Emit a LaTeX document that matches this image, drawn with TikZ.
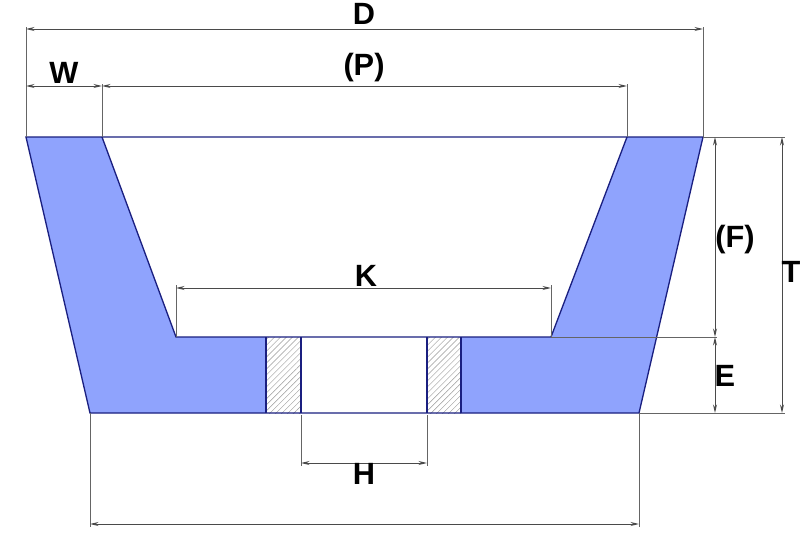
\documentclass[tikz,border=0pt]{standalone}
\usepackage{fontspec}
\setmainfont{Liberation Sans}
\usetikzlibrary{arrows.meta,patterns.meta}
\definecolor{wheelblue}{HTML}{8FA3FD}
\definecolor{wheeledge}{HTML}{1A1F80}
\definecolor{dimgray}{HTML}{4A4A4A}
\tikzset{
	wheel/.style={draw=wheeledge, line width=0.75pt},
	extline/.style={draw=dimgray!85, line width=0.45pt},
	dimline/.style={draw=dimgray, line width=0.55pt, {Stealth[length=1.7mm,width=0.8mm]}-{Stealth[length=1.7mm,width=0.8mm]}},
	dimtext/.style={font=\fontsize{17.5}{20}\selectfont\bfseries, inner sep=0pt, text=black},
	hatchfill/.style={pattern={Lines[angle=45,distance=2.4pt,line width=0.25pt]}, pattern color=black!40},
}
\begin{document}
\begin{tikzpicture}[x=0.2mm, y=-0.2mm]
		%%%%% START %%%%%
		\useasboundingbox (0, 0) rectangle (800, 546);
		\fill[white] (0, 0) rectangle (800, 546);
		
		% wheel section
		\fill[wheelblue] (26, 137) -- (102, 137) -- (176, 337) -- (266, 337) -- (266, 413) -- (90, 413) -- cycle;
		\fill[wheelblue] (703, 137) -- (627, 137) -- (551, 337) -- (461, 337) -- (461, 413) -- (639, 413) -- cycle;
		\fill[hatchfill] (266, 337) rectangle (301, 413);
		\fill[hatchfill] (427, 337) rectangle (461, 413);
		\draw[wheel] (26, 137) -- (703, 137) -- (639, 413) -- (90, 413) -- cycle;
		\draw[wheel] (102, 137) -- (176, 337) -- (551, 337) -- (627, 137);
		\draw[wheel] (266, 337) -- (266, 413);
		\draw[wheel] (301, 337) -- (301, 413);
		\draw[wheel] (427, 337) -- (427, 413);
		\draw[wheel] (461, 337) -- (461, 413);
		
		% points the dimensions hang on
		\coordinate (dLeft) at (26, 29);
		\coordinate (dRight) at (703, 29);
		\coordinate (wLeft) at (26, 86);
		\coordinate (wRight) at (102, 86);
		\coordinate (pRight) at (627, 86);
		\coordinate (kLeft) at (176, 288);
		\coordinate (kRight) at (551, 288);
		\coordinate (hLeft) at (301, 463);
		\coordinate (hRight) at (427, 463);
		\coordinate (bLeft) at (90, 524);
		\coordinate (bRight) at (639, 524);
		\coordinate (fTop) at (715, 137);
		\coordinate (fBottom) at (715, 337);
		\coordinate (eBottom) at (715, 413);
		\coordinate (tTop) at (782, 137);
		\coordinate (tBottom) at (782, 413);
		
		% extension lines
		\draw[extline] (26, 27) -- (26, 137);
		\draw[extline] (703, 27) -- (703, 137);
		\draw[extline] (102, 84) -- (102, 137);
		\draw[extline] (627, 84) -- (627, 137);
		\draw[extline] (176, 285) -- (176, 337);
		\draw[extline] (551, 285) -- (551, 337);
		\draw[extline] (301, 415) -- (301, 466);
		\draw[extline] (427, 415) -- (427, 466);
		\draw[extline] (90, 413) -- (90, 527);
		\draw[extline] (639, 413) -- (639, 527);
		\draw[extline] (703, 137) -- (785, 137);
		\draw[extline] (551, 337) -- (717, 337);
		\draw[extline] (639, 413) -- (785, 413);
		
		% dimensions
		\draw[dimline] (dLeft) -- (dRight);
		\draw[dimline] (wLeft) -- (wRight);
		\draw[dimline] (wRight) -- (pRight);
		\draw[dimline] (kLeft) -- (kRight);
		\draw[dimline] (hLeft) -- (hRight);
		\draw[dimline] (bLeft) -- (bRight);
		\draw[dimline] (fTop) -- (fBottom);
		\draw[dimline] (fBottom) -- (eBottom);
		\draw[dimline] (tTop) -- (tBottom);
		
		% labels
		\node[dimtext] (labelD) at (364, 14) {D};
		\node[dimtext] (labelP) at (364, 68) {(P)};
		\node[dimtext] (labelW) at (64, 73) {W};
		\node[dimtext] (labelK) at (366, 276) {K};
		\node[dimtext] (labelH) at (364, 474) {H};
		\node[dimtext] (labelF) at (735, 240) {(F)};
		\node[dimtext] (labelE) at (725, 376) {E};
		\node[dimtext] (labelT) at (791, 272) {T};
		%%%%% END %%%%%
	\end{tikzpicture}
\end{document}
